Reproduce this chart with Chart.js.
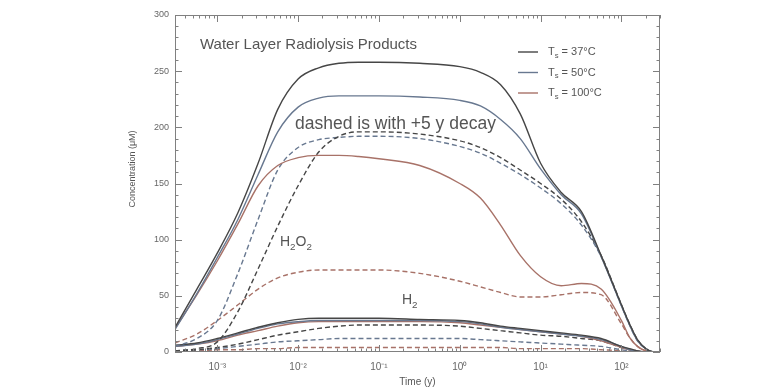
<!DOCTYPE html>
<html>
<head>
<meta charset="utf-8">
<script src="https://cdn.jsdelivr.net/npm/chart.js@4"></script>
<style>
  html, body { margin: 0; padding: 0; background: #fff; }
</style>
</head>
<body>
<canvas id="chart" width="772" height="392"></canvas>
<script>
// time (years)
const times = [3e-4, 5.6e-4, 1e-3, 1.8e-3, 3.2e-3, 5.6e-3, 0.01, 0.018, 0.032, 0.056, 0.1, 0.32, 1, 1.8, 3.2, 5.6, 10, 18, 32, 56, 100, 126, 158, 200, 251, 300];

// H2O2 (uM), solid
const h2o2_37  = [22, 56, 88, 124, 168, 216, 243, 253, 257, 258, 258, 257, 254, 249, 238, 212, 168, 142, 125, 86, 42, 25, 11, 3, 0, 0];
const h2o2_50  = [20, 52, 84, 118, 158, 196, 218, 226, 228, 228, 228, 227, 224, 219, 207, 190, 163, 140, 123, 85, 41, 24, 10, 3, 0, 0];
const h2o2_100 = [21, 51, 81, 114, 148, 166, 173, 175, 175, 174, 172, 166, 150, 137, 113, 86, 67, 59, 61, 56, 28, 13, 5, 1, 0, 0];
// H2O2, +5 y decay (dashed)
const h2o2_37_decay  = [1, 3, 9, 36, 74, 112, 148, 178, 192, 196, 196, 194, 188, 182, 173, 162, 150, 136, 116, 86, 42, 25, 11, 3, 0, 0];
const h2o2_50_decay  = [5, 12, 28, 70, 118, 162, 182, 189, 191, 192, 192, 190, 183, 177, 168, 158, 146, 132, 113, 85, 41, 24, 10, 3, 0, 0];
const h2o2_100_decay = [8, 16, 28, 42, 56, 66, 71, 73, 73, 73, 73, 70, 63, 58, 53, 49, 49, 51, 53, 51, 25, 13, 5, 1, 0, 0];

// H2 (uM)
const h2_37  = [6, 8, 12, 17, 22, 26, 29, 30, 30, 30, 30, 29, 28, 26, 23, 21, 19, 17, 15, 12, 5, 3, 1, 0, 0, 0];
const h2_50  = [5, 7, 11, 16, 21, 25, 27, 28, 28, 28, 28, 28, 27, 25, 22, 20, 18, 16, 14, 11, 5, 2, 1, 0, 0, 0];
const h2_100 = [5, 7, 10, 15, 19, 23, 26, 27, 27, 27, 27, 27, 26, 24, 22, 20, 18, 16, 14, 10, 4, 2, 1, 0, 0, 0];
const h2_37_decay  = [1, 2, 4, 7, 11, 15, 18, 21, 23, 24, 24, 24, 23, 21, 19, 17, 15, 14, 12, 10, 4, 2, 1, 0, 0, 0];
const h2_50_decay  = [1, 2, 3, 5, 7, 9, 10, 11, 12, 12, 12, 12, 12, 11, 10, 9, 8, 7, 6, 5, 2, 1, 0, 0, 0, 0];
const h2_100_decay = [1, 1, 2, 2, 3, 3, 4, 4, 4, 4, 4, 4, 4, 4, 4, 3, 3, 3, 3, 2, 1, 0, 0, 0, 0, 0];

const temps = ['37', '50', '100'];
const xTickValues = [1e-3, 1e-2, 1e-1, 1, 10, 100];
const xTickLabels = ['10\u207B\u00B3', '10\u207B\u00B2', '10\u207B\u00B9', '10\u2070', '10\u00B9', '10\u00B2'];

const colors = ['#464646', '#687890', '#a87268'];
const FONT = '"Liberation Sans", Arial, sans-serif';

function line(values, ci, dashed) {
  return {
    data: times.map((t, i) => ({ x: t, y: values[i] })),
    borderColor: colors[ci],
    borderWidth: 1.4,
    borderDash: dashed ? [5, 3] : [],
    pointRadius: 0,
    cubicInterpolationMode: 'monotone',
    fill: false,
  };
}

// text with subscript parts
function richText(ctx, parts, x, y, size) {
  let cx = x;
  parts.forEach(([s, sub]) => {
    ctx.font = (sub ? size * 0.7 : size) + 'px ' + FONT;
    ctx.fillText(s, cx, sub ? y + size * 0.35 : y);
    cx += ctx.measureText(s).width;
  });
}

const frame = {
  id: 'frame',
  afterDraw(chart) {
    const { ctx, chartArea: a, scales: { x, y } } = chart;
    ctx.save();
    ctx.strokeStyle = '#808080';
    ctx.lineWidth = 1;
    ctx.strokeRect(a.left + 0.5, a.top + 0.5, a.width - 1, a.height - 1);
    ctx.beginPath();
    for (let e = -4; e <= 2; e++) {
      for (let m = 1; m <= 9; m++) {
        const v = m * Math.pow(10, e);
        if (v < x.min || v > x.max) continue;
        const px = Math.round(x.getPixelForValue(v)) + 0.5;
        const len = m === 1 ? 7 : 3.5;
        ctx.moveTo(px, a.bottom); ctx.lineTo(px, a.bottom - len);
        ctx.moveTo(px, a.top); ctx.lineTo(px, a.top + len);
      }
    }
    for (let v = 0; v <= 300; v += 10) {
      const py = Math.round(y.getPixelForValue(v)) + 0.5;
      const len = v % 50 === 0 ? 7 : 3.5;
      ctx.moveTo(a.left, py); ctx.lineTo(a.left + len, py);
      ctx.moveTo(a.right, py); ctx.lineTo(a.right - len, py);
    }
    ctx.stroke();

    // y axis title
    ctx.fillStyle = '#555';
    ctx.save();
    ctx.translate(a.left - 42, a.top + 154);
    ctx.rotate(-Math.PI / 2);
    ctx.textAlign = 'center';
    ctx.textBaseline = 'middle';
    ctx.font = '9px ' + FONT;
    ctx.fillText('Concentration (\u03BCM)', 0, 0);
    ctx.restore();

    // annotations
    ctx.textBaseline = 'middle';
    ctx.textAlign = 'left';
    ctx.font = '15px ' + FONT;
    ctx.fillText('Water Layer Radiolysis Products', a.left + 25, a.top + 30);
    ctx.font = '17.5px ' + FONT;
    ctx.fillText('dashed is with +5 y decay', a.left + 120, y.getPixelForValue(203));
    richText(ctx, [['H'], ['2', true], ['O'], ['2', true]], a.left + 105, y.getPixelForValue(98), 14);
    richText(ctx, [['H'], ['2', true]], a.left + 227, y.getPixelForValue(46), 14);

    // legend
    const lx = a.left + 343;
    temps.forEach((t, i) => {
      const ly = a.top + 37 + i * 20.5;
      ctx.strokeStyle = colors[i];
      ctx.lineWidth = 1.4;
      ctx.beginPath();
      ctx.moveTo(lx, ly); ctx.lineTo(lx + 20, ly);
      ctx.stroke();
      ctx.fillStyle = '#555';
      richText(ctx, [['T'], ['s', true], [' = ' + t + '\u00B0C']], lx + 30, ly, 11);
    });
    ctx.restore();
  }
};

new Chart(document.getElementById('chart'), {
  type: 'line',
  data: {
    datasets: [
      line(h2o2_37, 0, false),
      line(h2o2_50, 1, false),
      line(h2o2_100, 2, false),
      line(h2o2_37_decay, 0, true),
      line(h2o2_50_decay, 1, true),
      line(h2o2_100_decay, 2, true),
      line(h2_37, 0, false),
      line(h2_50, 1, false),
      line(h2_100, 2, false),
      line(h2_37_decay, 0, true),
      line(h2_50_decay, 1, true),
      line(h2_100_decay, 2, true),
    ],
  },
  options: {
    responsive: false,
    animation: false,
    layout: { padding: { left: 124, top: 15, right: 112, bottom: 0 } },
    plugins: {
      legend: { display: false },
      tooltip: { enabled: false },
    },
    scales: {
      x: {
        type: 'logarithmic',
        min: 3e-4,
        max: 300,
        afterBuildTicks: s => { s.ticks = xTickValues.map(v => ({ value: v })); },
        afterFit: s => { s.height = 40; },
        ticks: {
          autoSkip: false,
          maxRotation: 0,
          padding: 9,
          color: '#666',
          font: { size: 10, family: FONT },
          callback: (v, i) => xTickLabels[i],
        },
        grid: { display: false, drawTicks: false },
        border: { display: false },
        title: { display: true, text: 'Time (y)', color: '#555', font: { size: 10, family: FONT }, padding: { top: 2, bottom: 4 } },
      },
      y: {
        min: 0,
        max: 300,
        afterFit: s => { s.width = 51; },
        ticks: {
          stepSize: 50,
          padding: 6,
          color: '#666',
          font: { size: 9, family: FONT },
        },
        grid: { display: false, drawTicks: false },
        border: { display: false },
      },
    },
  },
  plugins: [frame],
});
</script>
</body>
</html>
